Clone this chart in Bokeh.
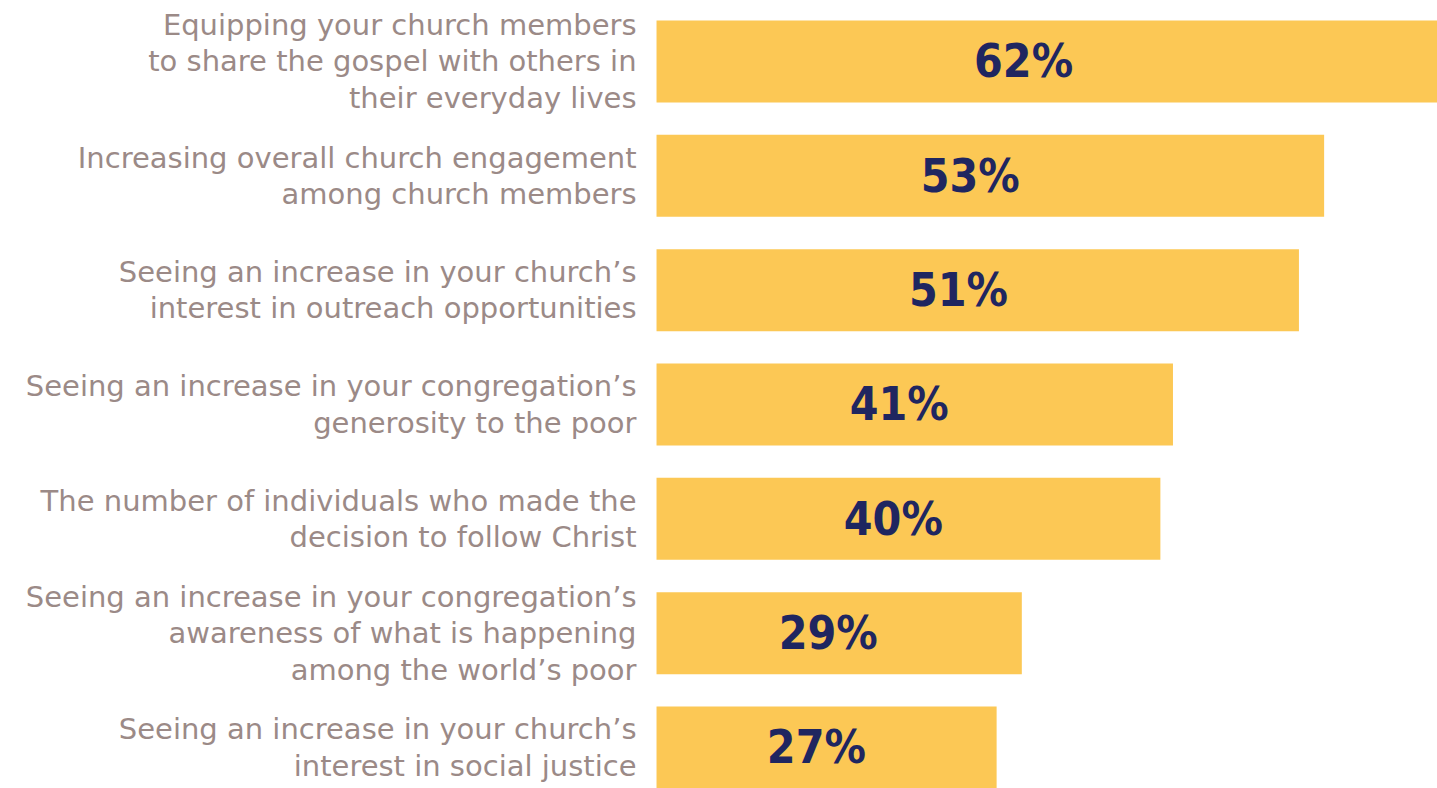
from bokeh.plotting import figure
from bokeh.models import ColumnDataSource, Range1d
from bokeh.core.properties import value
from bokeh.embed import file_html
from bokeh.resources import INLINE

labels = [
    "Equipping your church members\nto share the gospel with others in\ntheir everyday lives",
    "Increasing overall church engagement\namong church members",
    "Seeing an increase in your church\u2019s\ninterest in outreach opportunities",
    "Seeing an increase in your congregation\u2019s\ngenerosity to the poor",
    "The number of individuals who made the\ndecision to follow Christ",
    "Seeing an increase in your congregation\u2019s\nawareness of what is happening\namong the world\u2019s poor",
    "Seeing an increase in your church\u2019s\ninterest in social justice",
]
values = [62, 53, 51, 41, 40, 29, 27]
value_labels = [f"{v}%" for v in values]

n = len(values)
ypos = [n - 1 - i for i in range(n)]
src = ColumnDataSource(dict(
    y=ypos, v=values, lab=labels, vl=value_labels,
    vx=[v * 0.47 for v in values], zero=[0] * n,
))

W, H = 1437, 788
p = figure(width=W, height=H, output_backend="svg", toolbar_location=None,
           x_range=Range1d(-52.08, 62.0), y_range=Range1d(-0.3586, 6.5335),
           min_border=0)
p.axis.visible = False
p.grid.visible = False
p.outline_line_color = None
p.background_fill_color = "white"
p.border_fill_color = "white"

p.hbar(y="y", left=0, right="v", height=0.717, source=src,
       fill_color="#FCC855", line_color=None)

p.text(x="zero", y="y", text="lab", source=src, x_offset=-20,
       text_align="right", text_baseline="middle",
       text_font=value("DejaVu Sans"), text_font_size="29px",
       text_color="#9B8A87", text_line_height=1.07)

p.text(x="vx", y="y", text="vl", source=src,
       text_align="center", text_baseline="middle",
       text_font=value("'DejaVu Sans Condensed', 'Roboto Condensed', 'Noto Sans Condensed', sans-serif"),
       text_font_style="bold",
       text_font_size="46px", text_color="#1F2660")

open("out.html", "w").write(file_html(p, INLINE))
